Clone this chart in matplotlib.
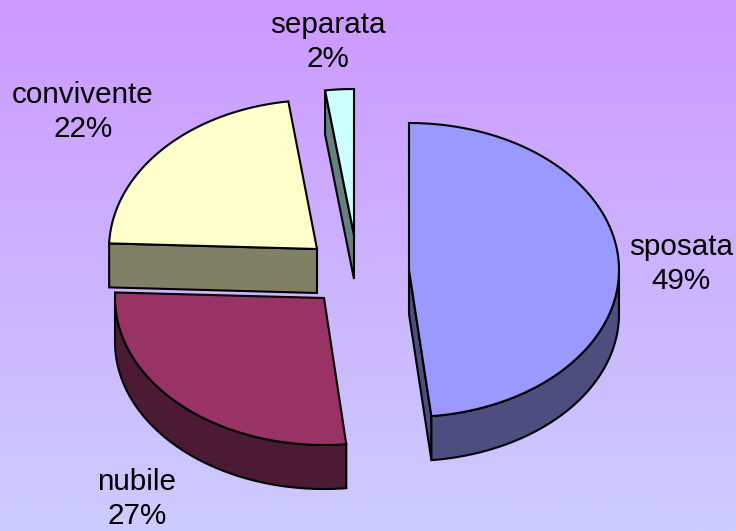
import numpy as np
import matplotlib
matplotlib.use('Agg')
import matplotlib.pyplot as plt
from matplotlib.colors import LinearSegmentedColormap
from matplotlib.patches import Polygon

# Data
categories = ['sposata', 'nubile', 'convivente', 'separata']
values = [48.3, 27.3, 22.2, 2.2]
labels = ['49%', '27%', '22%', '2%']
top_colors = ['#9999FF', '#993366', '#FFFFCC', '#CCFFFF']
side_colors = ['#4D4D80', '#4D1A33', '#808066', '#668080']
# apex of each exploded slice, in pixels from the top left
apex_x = [409, 324, 317, 354]
apex_y = [270, 298, 249, 235]
radius_x = [210, 209, 208, 210]
radius_y = [147, 147, 149, 146]
label_x = [681, 137, 83, 328]
label_y = [264, 499, 112, 42]

depth = 44

plt.rcParams['font.family'] = ['Liberation Sans', 'DejaVu Sans']

fig = plt.figure(figsize=(7.36, 5.31), dpi=100)
ax = fig.add_axes([0, 0, 1, 1])
ax.set_xlim(0, 736)
ax.set_ylim(531, 0)
ax.axis('off')

# background gradient
bg = LinearSegmentedColormap.from_list('bg', ['#CC99FF', '#CCCCFF'])
ax.imshow(np.linspace(0, 1, 256).reshape(-1, 1), cmap=bg, aspect='auto',
          extent=[0, 736, 531, 0], zorder=0)

edges = np.cumsum([0] + values) / 100 * 2 * np.pi

for i in range(len(values)):
    cx, cy = apex_x[i], apex_y[i]
    rx, ry = radius_x[i], radius_y[i]
    a = np.linspace(edges[i], edges[i + 1], 120)
    xs = cx + rx * np.sin(a)
    ys = cy - ry * np.cos(a)

    # cut faces, only the ones turned towards the viewer
    for ang, normal in ((edges[i], edges[i] - np.pi / 2), (edges[i + 1], edges[i + 1] + np.pi / 2)):
        if np.cos(normal) < -1e-6:
            ex = cx + rx * np.sin(ang)
            ey = cy - ry * np.cos(ang)
            wall = [(cx, cy), (ex, ey), (ex, ey + depth), (cx, cy + depth)]
            ax.add_patch(Polygon(wall, fc=side_colors[i], ec='black', lw=1.5, zorder=2 + i))
    # outer rim, front half only
    front = np.cos(a) <= 0
    if front.any():
        fx, fy = xs[front], ys[front]
        rim = np.column_stack([np.r_[fx, fx[::-1]], np.r_[fy, fy[::-1] + depth]])
        ax.add_patch(Polygon(rim, fc=side_colors[i], ec='black', lw=1.5, zorder=2 + i))

    top = np.column_stack([np.r_[cx, xs], np.r_[cy, ys]])
    ax.add_patch(Polygon(top, fc=top_colors[i], ec='black', lw=1.5, zorder=2 + i))

    ax.text(label_x[i], label_y[i], categories[i] + '\n' + labels[i], ha='center',
            va='center', fontsize=21.3, linespacing=1.3, color='black', zorder=10)

fig.savefig('out.png', dpi=100)
